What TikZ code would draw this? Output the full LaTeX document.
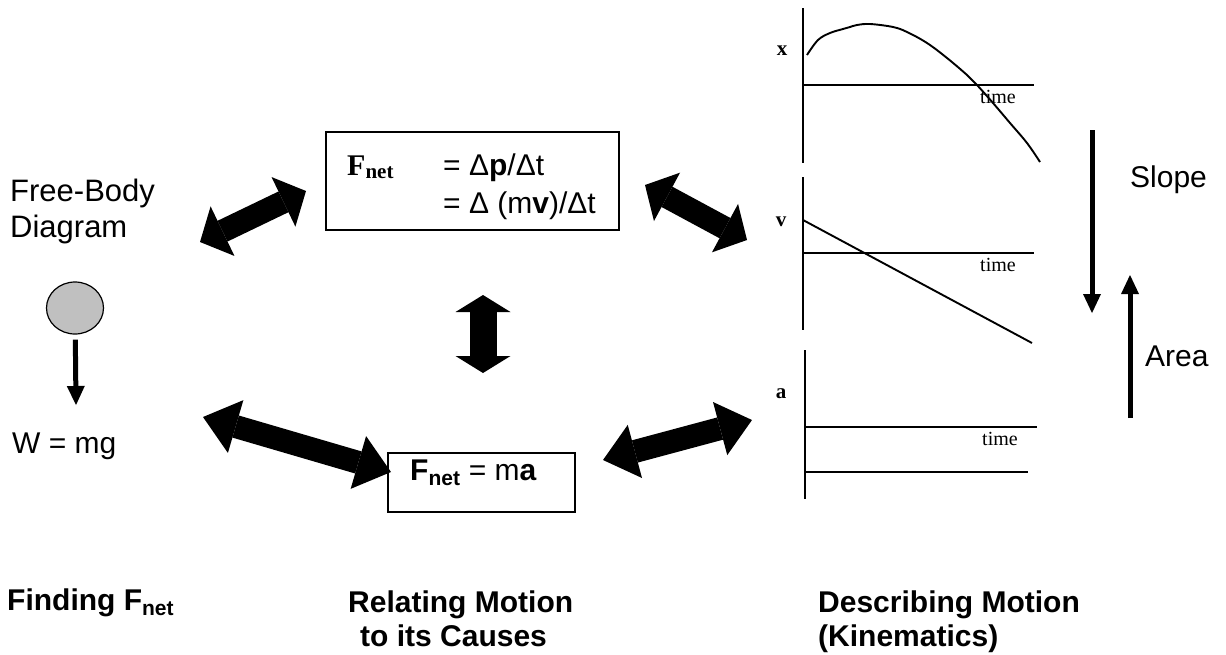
\documentclass[tikz,border=0pt]{standalone}
\usepackage{fontspec}
\setmainfont{Liberation Sans}
\newfontfamily\timesfont{Liberation Serif}
\usetikzlibrary{arrows.meta,shapes.geometric,positioning}
\definecolor{ballgray}{RGB}{192,192,192}

\begin{document}
\begin{tikzpicture}[x=1pt, y=-1pt, font=\fontsize{30}{36}\selectfont,
  box/.style={draw, line width=1.8pt, inner sep=0pt},
  biarrow/.style={line width=23pt, {Triangle[width=55pt,length=#1,line width=0pt]}-{Triangle[width=55pt,length=#1,line width=0pt]}},
  biarrow/.default=25pt,
  force/.style={line width=5pt, -{Triangle[width=18pt,length=19pt,line width=0pt]}},
  axis/.style={line width=1.9pt},
  txt/.style={anchor=base west, inner sep=0pt, align=left},
  title/.style={txt, font=\bfseries\fontsize{30}{34}\selectfont},
  tlabel/.style={txt, font=\timesfont\fontsize{20}{24}\selectfont},
  glabel/.style={inner sep=0pt, font=\timesfont\bfseries\fontsize{21}{24}\selectfont}]
\useasboundingbox (0,0) rectangle (1226,654);

% free-body side
\node[txt, font=\fontsize{31}{36}\selectfont] (fbd) at (10,237) {Free-Body\\Diagram};
\node[draw, ellipse, fill=ballgray, line width=1.2pt, minimum width=57pt, minimum height=52pt, inner sep=0pt] (ball) at (75,308) {};
\coordinate (wtip) at (76,405);
\draw[force, shorten <=5pt] (ball) -- (wtip);
\node[txt] (weight) at (12,453) {W = mg};

% the two boxes
\node[box, minimum width=293pt, minimum height=98pt] (mom) at (472.5,181) {};
\node[txt, font=\timesfont\bfseries\fontsize{30}{36}\selectfont] (fnet) at (347,175) {F\textsubscript{net}};
\node[txt] (dp) at (443,175) {= Δ\textbf{p}/Δt};
\node[txt] (dmv) at (443,213) {= Δ (m\textbf{v})/Δt};
\node[box, minimum width=187pt, minimum height=59pt] (newton) at (481.5,482.5) {};
\node[txt] (fma) at (410,480) {\textbf{F\textsubscript{net}} = m\textbf{a}};

% fat double arrows
\coordinate (a1s) at (200,242); \coordinate (a1e) at (306,191);
\coordinate (a2s) at (645,185); \coordinate (a2e) at (747,240);
\coordinate (a3s) at (483,295); \coordinate (a3e) at (483,373);
\coordinate (a4s) at (203,417); \coordinate (a4e) at (391,472);
\coordinate (a5s) at (603,460); \coordinate (a5e) at (752,420);
\draw[biarrow] (a1s) -- (a1e);
\draw[biarrow] (a2s) -- (a2e);
\draw[biarrow=17pt, line width=27pt] (a3s) -- (a3e);
\draw[biarrow=34pt] (a4s) -- (a4e);
\draw[biarrow=33pt] (a5s) -- (a5e);

% x graph
\draw[axis] (803,8) -- (803,163);
\draw[axis] (803,85) -- (1034,85);
\draw[axis] plot[smooth, tension=0.6] coordinates {(807,55) (818,40) (830,33) (843,29) (850,27) (857,25) (870,24) (893,27) (907,32) (927,43) (947,58) (967,75) (977,85) (993,103) (1010,123) (1027,143) (1040,162)};
\node[glabel] (xl) at (782,51) {x};
\node[tlabel] (xt) at (980,103) {time};

% v graph
\draw[axis] (803,177) -- (803,330);
\draw[axis] (803,253) -- (1034,253);
\draw[axis] (803,220) -- (1032,343);
\node[glabel] (vl) at (781,222) {v};
\node[tlabel] (vt) at (980,271) {time};

% a graph
\draw[axis] (805,350) -- (805,499);
\draw[axis] (805,427) -- (1037,427);
\draw[axis] (805,472) -- (1028,472);
\node[glabel] (al) at (781,394) {a};
\node[tlabel] (at) at (982,445) {time};

% slope and area
\coordinate (s1) at (1092,130); \coordinate (s2) at (1092,313);
\coordinate (r1) at (1130,418); \coordinate (r2) at (1130,275);
\draw[force] (s1) -- (s2);
\draw[force] (r1) -- (r2);
\node[txt] (slope) at (1130,187) {Slope};
\node[txt] (area) at (1145,366) {Area};

% titles
\node[title] (find) at (7,610) {Finding F\textsubscript{net}};
\node[title] (relate) at (348,646) {Relating Motion\\\hspace*{12pt}to its Causes};
\node[title] (describe) at (818,646) {Describing Motion\\(Kinematics)};
\end{tikzpicture}
\end{document}
